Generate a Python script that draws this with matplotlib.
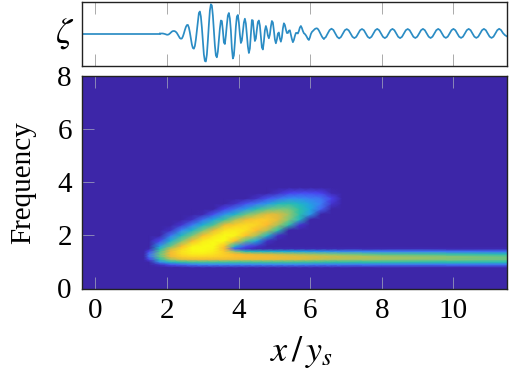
import numpy as np
import matplotlib
matplotlib.use('Agg')
import matplotlib.pyplot as plt
from matplotlib.colors import LinearSegmentedColormap

plt.rcParams['font.family'] = 'Liberation Serif'
plt.rcParams['mathtext.fontset'] = 'stix'

# Wave record, top panel (arbitrary amplitude units)
x_flat = [-0.39, 1.8]
zeta_flat = [0, 0]

# burst part, x from 1.8 to 6.38
zeta_burst = [0, 0, 0, 0, -0.2, -0.5, -0.9, -1.2, -1.2, -0.8, 0, 1, 1.9, 2.4, 2.5, 2.3, 1.6, 0.5, -1.2, -3,
              -4.6, -5.2, -5, -3, 0, 3.5, 6.5, 8.4, 8.6, 6, 1, -5, -11, -14.5, -15.2, -12.5, -6, 3, 13, 20.5,
              22, 17, 6, -8, -21, -27.5, -28, -21, -7, 9, 23, 29.2, 28, 18, 3, -12, -22, -23.8, -18, -7,
              5, 13, 12.5, 3, -9, -10.5, -2, 9, 18, 20.5, 15, 3, -15, -25, -22, -9, 7, 17, 18.5, 11,
              -1, -9.5, -7, 2, 11, 14.8, 10, -1, -13, -19.5, -15, 0, 13.5, 13, 2, -7.5, -5, 4, 11.5, 13,
              8, -3, -14, -16, -8, 3, 7.5, 4, -2, -4.8, -1, 7, 12.5, 11, 3, -6, -9.8, -6, 0, 1,
              -5, -8.2, -4, 5, 10.2, 8.5, 4, 0.5, 0.5, 2.8, 3.2, -1, -5.5, -8.7, -6.5, -2.5, 0.5, 0.6, 0, 2.5,
              6, 7.5, 5.5, 2.5, 0.3, -0.5, -1.8, -3.5, -5.5, -6.5, -4, -0.5, 1.5, 2.5, 3.5, 4.5, 5, 5.2, 4.5, 3,
              1, -1, -3, -4.5, -5.2]
x_burst = np.linspace(1.8, 6.383, len(zeta_burst))

# regular tail, x from 6.38 to 11.49
zeta_tail = [-5.2, -3.6, 0, 3.4, 4.8, 3.5, 0, -3.4, -4.9, -3.4, 0, 3.3, 4.4, 3.2, 0, -3.3, -4.6,
             -3.3, 0, 3.3, 4.5, 3.3, 0, -3.3, -4.6, -3.3, 0, 3.3, 4.6, 3.3, 0, -3.3, -4.6,
             -3.3, 0, 3.3, 4.6, 3.3, 0, -3.3, -4.6, -3.3, 0, 3.3, 4.5, 3.3, 0, -3.3, -4.5,
             -3.2, 0, 3.3, 4.6, 3.3, 0, -3.2, -4.5, -3.2, 0, 3.3, 4.6, 3.3, 0, -3.2, -4.4,
             -3.2, 0, 3.3, 4.6, 3.3, 0, -3.2, -4.4, -3.2, 0, 3.3, 4.6, 3.3, 0, -3.2, -4.4,
             -3.2, 0, 3.3, 4.6, 3.3, 0, -3.2, -4.4, -3.2, 0, 3.3, 4.7, 3.4, 0.4, -1.6, -2.8]
x_tail = np.linspace(6.383, 11.494, len(zeta_tail))

# Spectrogram values in percent of the colour scale, one list per x column
freq_rows = [0.8, 0.9, 1.0, 1.1, 1.2, 1.3, 1.4, 1.5, 1.6, 1.8, 2.0, 2.2, 2.4, 2.6, 2.8, 3.0, 3.2, 3.4, 3.6, 3.8]
x_cols = [1.35, 1.5, 1.8, 2.1, 2.4, 2.7, 3.0, 3.3, 3.6, 3.9, 4.2, 4.5, 4.8, 5.1, 5.4, 5.7, 6.0, 6.3, 6.6, 6.9, 8.0, 11.6]
power = [
    [0, 0, 0, 0, 0, 0, 0, 0, 0, 0, 0, 0, 0, 0, 0, 0, 0, 0, 0, 0],
    [0, 0, 0, 5, 14, 14, 6, 1, 0, 0, 0, 0, 0, 0, 0, 0, 0, 0, 0, 0],
    [0, 2, 20, 40, 50, 52, 48, 38, 25, 6, 0, 0, 0, 0, 0, 0, 0, 0, 0, 0],
    [0, 8, 35, 60, 74, 78, 76, 66, 52, 32, 15, 2, 0, 0, 0, 0, 0, 0, 0, 0],
    [0, 12, 42, 70, 85, 90, 92, 88, 78, 55, 36, 18, 3, 0, 0, 0, 0, 0, 0, 0],
    [1, 16, 45, 74, 88, 95, 98, 100, 97, 78, 55, 34, 16, 2, 0, 0, 0, 0, 0, 0],
    [1, 18, 46, 76, 88, 95, 100, 100, 100, 95, 78, 54, 32, 14, 1, 0, 0, 0, 0, 0],
    [1, 18, 46, 74, 87, 92, 96, 98, 100, 100, 92, 74, 48, 28, 8, 0, 0, 0, 0, 0],
    [1, 18, 45, 74, 85, 86, 84, 78, 82, 100, 100, 92, 74, 44, 22, 5, 0, 0, 0, 0],
    [1, 18, 45, 72, 82, 80, 58, 10, 34, 80, 98, 96, 85, 62, 34, 14, 2, 0, 0, 0],
    [1, 18, 45, 72, 80, 74, 40, 3, 8, 50, 82, 92, 90, 75, 52, 24, 8, 0, 0, 0],
    [1, 18, 45, 72, 78, 70, 36, 1, 3, 28, 62, 80, 88, 84, 62, 40, 15, 2, 0, 0],
    [1, 18, 45, 72, 78, 68, 34, 1, 0, 2, 35, 64, 80, 84, 72, 50, 24, 8, 0, 0],
    [1, 18, 45, 70, 76, 66, 32, 1, 0, 0, 2, 42, 62, 72, 70, 55, 36, 14, 2, 0],
    [1, 18, 45, 68, 74, 64, 30, 1, 0, 0, 0, 0, 42, 56, 60, 54, 40, 20, 5, 0],
    [1, 18, 44, 68, 72, 62, 28, 1, 0, 0, 0, 0, 3, 36, 42, 42, 34, 20, 7, 0],
    [1, 17, 44, 66, 70, 60, 26, 1, 0, 0, 0, 0, 0, 0, 24, 28, 25, 17, 7, 0],
    [1, 16, 43, 64, 68, 58, 24, 1, 0, 0, 0, 0, 0, 0, 0, 12, 17, 15, 5, 0],
    [1, 16, 42, 62, 67, 56, 22, 1, 0, 0, 0, 0, 0, 0, 0, 0, 3, 5, 1, 0],
    [1, 16, 42, 62, 66, 54, 20, 1, 0, 0, 0, 0, 0, 0, 0, 0, 0, 0, 0, 0],
    [1, 15, 42, 60, 62, 48, 18, 1, 0, 0, 0, 0, 0, 0, 0, 0, 0, 0, 0, 0],
    [1, 14, 38, 52, 52, 38, 14, 1, 0, 0, 0, 0, 0, 0, 0, 0, 0, 0, 0, 0],
]

xticks = [0, 2, 4, 6, 8, 10]
yticks = [0, 2, 4, 6, 8]

parula = LinearSegmentedColormap.from_list('parula_like', [
    (0.00, '#3d26a8'), (0.05, '#4a42f0'), (0.18, '#3a85f5'), (0.30, '#18b0d8'),
    (0.42, '#2cc0a8'), (0.56, '#80c878'), (0.68, '#d6bc42'), (0.80, '#fdbb30'),
    (1.00, '#f9fb15')])

W, H = 509, 377
fig = plt.figure(figsize=(W / 100, H / 100), dpi=100)
ax1 = fig.add_axes([81.5 / W, 1 - 66 / H, 425.5 / W, 64.5 / H])
ax2 = fig.add_axes([81.5 / W, 1 - 288.5 / H, 425.5 / W, 212.5 / H])

# Top panel
for xs, zs in [(x_flat, zeta_flat), (x_burst, zeta_burst), (x_tail, zeta_tail)]:
    ax1.plot(xs, zs, color='#2b8cc4', linewidth=1.25)
ax1.set_xlim(-0.39, 11.5)
ax1.set_ylim(-32.5, 32)
ax1.set_xticks(xticks)
ax1.set_yticks([])
ax1.tick_params(axis='x', which='major', direction='in', top=True, bottom=True,
                length=8.5, width=0.7, color='#aaaaaa', labelbottom=False)
ax1.set_ylabel(r'$\zeta$', fontsize=26, rotation=0, va='center', labelpad=12)

# Spectrogram
ax2.set_facecolor(parula(0.0))
ax2.pcolormesh(x_cols, freq_rows, np.array(power, dtype=float).T, cmap=parula, vmin=0, vmax=100,
               shading='gouraud', rasterized=True)
ax2.set_xlim(-0.39, 11.5)
ax2.set_ylim(0, 8)
ax2.set_xticks(xticks)
ax2.set_yticks(yticks)
ax2.tick_params(axis='both', which='major', direction='in', top=True, bottom=True, left=True, right=False,
                length=8.5, width=0.7, color='#8a86b8', labelsize=21, pad=7)
ax2.set_xlabel(r'$x\,/\,y_s$', fontsize=26, labelpad=7, x=0.517)
ax2.set_ylabel('Frequency', fontsize=21, labelpad=15)

for ax in (ax1, ax2):
    for s in ax.spines.values():
        s.set_linewidth(1.0)
        s.set_color('#222222')

fig.savefig('out.png', dpi=100)
